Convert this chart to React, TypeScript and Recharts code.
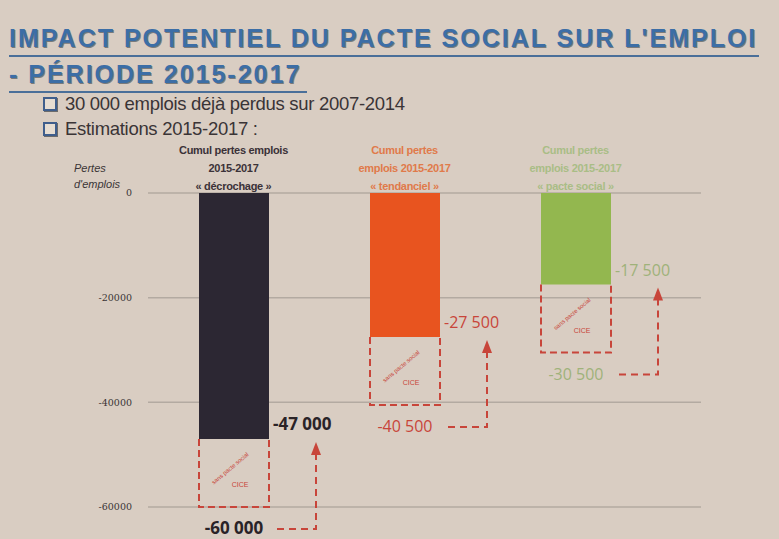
import { BarChart, Bar, XAxis, YAxis, CartesianGrid, Cell } from 'recharts'

// Chart values
const categories = ['décrochage', 'tendanciel', 'pacte social']
const categoryLines = [
    ['Cumul pertes emplois', '2015-2017', '« décrochage »'],
    ['Cumul pertes', 'emplois 2015-2017', '« tendanciel »'],
    ['Cumul pertes', 'emplois 2015-2017', '« pacte social »'],
]
const jobLosses = [-47000, -27500, -17500]
const withoutPact = [-13000, -13000, -13000]
const yTicks = [0, -20000, -40000, -60000]

const BAR_COLORS = ['#2c2733', '#e8541f', '#93b74f']
const LABEL_COLORS = ['#2a2327', '#c8453a', '#9fb27a']
const HEAD_COLORS = ['#3b3238', '#e07a4a', '#a9bd86']
const RED = '#c8453a'

const chartData = categories.map((c, i) => ({
    name: c,
    losses: jobLosses[i],
    pact: withoutPact[i],
}))

const fmt = (v: number) => '-' + Math.abs(v).toLocaleString('fr-FR').replace(/\s/g, ' ')

// top axis: three-line heading per bar
function HeadTick(props: any) {
    const { x, y, payload } = props
    const i = payload.index
    return (
        <text x={x} y={y} textAnchor="middle" fontFamily="Liberation Sans, sans-serif" fontWeight="bold" fontSize={11} letterSpacing={-0.3} fill={HEAD_COLORS[i]}>
            {categoryLines[i].map((l, k) => (
                <tspan key={k} x={x} y={y - 31 + k * 18}>{l}</tspan>
            ))}
        </text>
    )
}

// dashed "sans pacte" box + labels + arrow
function PactShape(props: any) {
    const { x, y, width, height, index } = props
    const top = Math.min(y, y + height)
    const bottom = Math.max(y, y + height)
    const right = x + width
    const ax = right + 47
    const hy = bottom + 22
    const strong = index === 0
    const lc = LABEL_COLORS[index]
    const cx = x + width / 2
    const cy = (top + bottom) / 2
    return (
        <g>
            <path d={`M${x},${top} L${x},${bottom} L${right},${bottom} L${right},${top}`} fill="none" stroke={RED} strokeWidth={2} strokeDasharray="7 4" />
            <g transform={`rotate(-40 ${cx} ${cy})`}>
                <text x={cx} y={cy - 4} textAnchor="middle" fontSize={6} fill={RED} fontFamily="Liberation Sans, sans-serif">sans pacte social</text>
            </g>
            <text x={cx + 6} y={cy + 14} textAnchor="middle" fontSize={7} fill={RED} fontFamily="Liberation Sans, sans-serif">CICE</text>
            <text x={right + 4} y={top - 9} fontSize={strong ? 17 : 16} fontWeight={strong ? 'bold' : 'normal'} fill={lc} fontFamily="Open Sans, sans-serif">
                {fmt(jobLosses[index])}
            </text>
            <text x={cx} y={bottom + 27} textAnchor="middle" fontSize={strong ? 17 : 16} fontWeight={strong ? 'bold' : 'normal'} fill={lc} fontFamily="Open Sans, sans-serif">
                {fmt(jobLosses[index] + withoutPact[index])}
            </text>
            <path d={`M${right + 8},${hy} L${ax},${hy} L${ax},${top + 14}`} fill="none" stroke={RED} strokeWidth={2} strokeDasharray="7 5" />
            <path d={`M${ax - 5},${top + 16} L${ax},${top + 3} L${ax + 5},${top + 16} Z`} fill={RED} />
        </g>
    )
}

function Bullet({ text }: { text: string }) {
    return (
        <div style={{ display: 'flex', alignItems: 'center', height: 25 }}>
            <span style={{ width: 10, height: 10, border: '2px solid #3f5e8c', background: '#e6ddd2', boxShadow: '1px 1px 0 #6b6b6b', marginRight: 8 }} />
            <span>{text}</span>
        </div>
    )
}

export default function App() {
    return (
        <div style={{ position: 'fixed', left: 0, top: 0, width: 779, height: 539, background: '#d9cdc2', overflow: 'hidden' }}>
            <div style={{ position: 'absolute', left: 9, top: 21, width: 770, fontFamily: 'Liberation Sans, sans-serif', fontWeight: 'bold', fontSize: 25, color: '#3c6ea6', letterSpacing: 2, lineHeight: '34px', textShadow: '1px 1px 0 #7a7a7a' }}>
                <div style={{ borderBottom: '2px solid #4a6f99', width: 750 }}>IMPACT POTENTIEL DU PACTE SOCIAL SUR L'EMPLOI</div>
                <div style={{ borderBottom: '2px solid #4a6f99', width: 298 }}>- PÉRIODE 2015-2017</div>
            </div>
            <div style={{ position: 'absolute', left: 43, top: 91, fontFamily: 'Liberation Sans, sans-serif', fontSize: 18.5, color: '#3a3436', letterSpacing: -0.3 }}>
                <Bullet text="30 000 emplois déjà perdus sur 2007-2014" />
                <Bullet text="Estimations 2015-2017 :" />
            </div>
            <div style={{ position: 'absolute', left: 74, top: 160, fontFamily: 'Liberation Sans, sans-serif', fontStyle: 'italic', fontSize: 11, color: '#3a3436', lineHeight: '16px' }}>
                Pertes<br />d'emplois
            </div>
            <div style={{ position: 'absolute', left: 0, top: 0 }}>
                <BarChart width={779} height={539} data={chartData} margin={{ top: 143, right: 78, bottom: 32, left: 0 }} barSize={70}>
                    <CartesianGrid vertical={false} stroke="#b3aaa1" strokeWidth={1.5} />
                    <XAxis dataKey="name" orientation="top" height={50} axisLine={false} tickLine={false} tick={<HeadTick />} interval={0} padding={{ left: 0, right: 40 }} />
                    <YAxis domain={[-60000, 0]} ticks={yTicks} width={148} axisLine={false} tickLine={false} tick={{ fontSize: 9.5, fill: '#3a3436', fontFamily: 'DejaVu Serif, serif' }} tickMargin={10} />
                    <Bar dataKey="losses" stackId="a" isAnimationActive={false}>
                        {chartData.map((d, i) => (
                            <Cell key={`cell-${i}`} fill={BAR_COLORS[i]} />
                        ))}
                    </Bar>
                    <Bar dataKey="pact" stackId="a" isAnimationActive={false} shape={<PactShape />} />
                </BarChart>
            </div>
        </div>
    )
}
